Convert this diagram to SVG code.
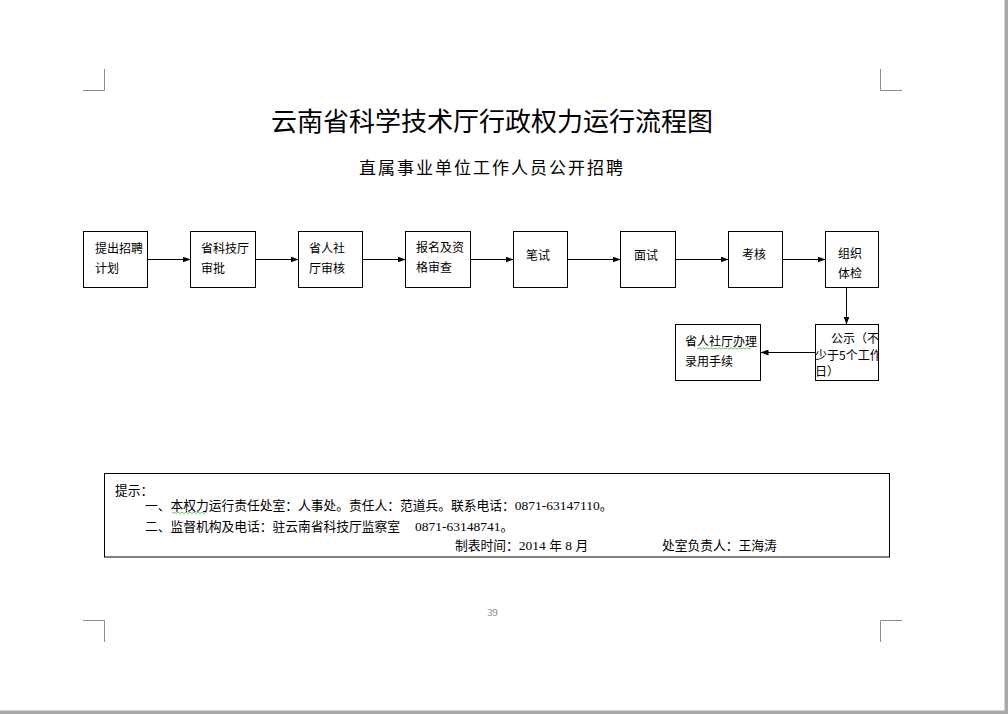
<svg xmlns="http://www.w3.org/2000/svg" width="1008" height="714" viewBox="0 0 1008 714">
<style>
text{font-family:"Noto Sans CJK SC","Liberation Sans",sans-serif;fill:#000}
.t{font-size:12px}
.n{font-size:12.75px}
.num{font-family:"Liberation Serif","Noto Sans CJK SC",serif}
.box{fill:#fff;stroke:#000;stroke-width:1}
.con{stroke:#000;stroke-width:1;fill:none}
.mark{stroke:#8c8c8c;stroke-width:1;fill:none}
.wave{stroke:#4caf50;stroke-width:0.8;fill:none}
</style>
<defs>
<marker id="ah" viewBox="0 0 8 6" refX="8" refY="3" markerWidth="8" markerHeight="6" markerUnits="userSpaceOnUse" orient="auto">
<path d="M0,0 L8,3 L0,6 Z" fill="#000"/>
</marker>
<clipPath id="clipGs"><rect x="815" y="324" width="63.5" height="56"/></clipPath>
</defs>
<rect x="0" y="0" width="1008" height="714" fill="#fff"/>
<rect x="1004.5" y="0" width="3.5" height="714" fill="#a8a8a8"/>
<rect x="0" y="710.5" width="1008" height="3.5" fill="#a8a8a8"/>
<g id="cropmarks">
<path class="mark" d="M104.5,69 V90.5 H83"/>
<path class="mark" d="M880.5,69 V90.5 H902"/>
<path class="mark" d="M104.5,642 V620.5 H83"/>
<path class="mark" d="M880.5,642 V620.5 H902"/>
</g>
<g id="title">
<text x="492" y="131" font-size="26" text-anchor="middle">云南省科学技术厅行政权力运行流程图</text>
<text x="492" y="174" font-size="17" text-anchor="middle" letter-spacing="2">直属事业单位工作人员公开招聘</text>
</g>
<g id="connectors">
<line class="con" x1="147.5" y1="259.5" x2="190.5" y2="259.5" marker-end="url(#ah)"/>
<line class="con" x1="255.5" y1="259.5" x2="298.5" y2="259.5" marker-end="url(#ah)"/>
<line class="con" x1="362.5" y1="259.5" x2="405.5" y2="259.5" marker-end="url(#ah)"/>
<line class="con" x1="470.5" y1="259.5" x2="513.5" y2="259.5" marker-end="url(#ah)"/>
<line class="con" x1="567.5" y1="259.5" x2="620.5" y2="259.5" marker-end="url(#ah)"/>
<line class="con" x1="675.5" y1="259.5" x2="728.5" y2="259.5" marker-end="url(#ah)"/>
<line class="con" x1="782.5" y1="259.5" x2="825.5" y2="259.5" marker-end="url(#ah)"/>
<line class="con" x1="846.5" y1="287.5" x2="846.5" y2="324.5" marker-end="url(#ah)"/>
<line class="con" x1="815.5" y1="352.5" x2="760.5" y2="352.5" marker-end="url(#ah)"/>
</g>
<g id="n1"><rect class="box" x="83.5" y="231.5" width="64" height="56"/><text class="t" x="95" y="253">提出招聘<tspan x="95" y="273">计划</tspan></text></g>
<g id="n2"><rect class="box" x="190.5" y="231.5" width="65" height="56"/><text class="t" x="201" y="253">省科技厅<tspan x="201" y="273">审批</tspan></text></g>
<g id="n3"><rect class="box" x="298.5" y="231.5" width="64" height="56"/><text class="t" x="309" y="253">省人社<tspan x="309" y="273">厅审核</tspan></text></g>
<g id="n4"><rect class="box" x="405.5" y="231.5" width="65" height="56"/><text class="t" x="416" y="252">报名及资<tspan x="416" y="272">格审查</tspan></text></g>
<g id="n5"><rect class="box" x="513.5" y="231.5" width="54" height="56"/><text class="t" x="526" y="259.5">笔试</text></g>
<g id="n6"><rect class="box" x="620.5" y="231.5" width="55" height="56"/><text class="t" x="634" y="259.5">面试</text></g>
<g id="n7"><rect class="box" x="728.5" y="231.5" width="54" height="56"/><text class="t" x="742" y="259">考核</text></g>
<g id="n8"><rect class="box" x="825.5" y="231.5" width="53" height="56"/><text class="t" x="838" y="258">组织<tspan x="838" y="278">体检</tspan></text></g>
<g id="n9"><rect class="box" x="815.5" y="324.5" width="63" height="56"/>
<g clip-path="url(#clipGs)"><text class="t" x="831" y="343">公示（不<tspan x="815" y="359.5">少于5个工作</tspan><tspan x="815" y="376">日）</tspan></text></g></g>
<g id="n10"><rect class="box" x="675.5" y="324.5" width="85" height="56"/><text class="t" x="685" y="346">省人社厅办理<tspan x="685" y="366">录用手续</tspan></text>
<path class="wave" d="M697,349 l2,-1.2 l2,1.2 l2,-1.2 l2,1.2 l2,-1.2 l2,1.2 l2,-1.2 l2,1.2 l2,-1.2 l2,1.2 l2,-1.2 l2,1.2 l2,-1.2 l2,1.2 l2,-1.2 l2,1.2 l2,-1.2 l2,1.2 l2,-1.2 l2,1.2 l2,-1.2 l2,1.2 l2,-1.2 l2,1.2 l2,-1.2 l2,1.2 l2,-1.2"/></g>
<g id="notes">
<rect class="box" x="104.5" y="473.5" width="785" height="83.5"/>
<text class="n" x="115" y="495">提示：</text>
<text class="n" x="145" y="510">一、本权力运行责任处室：人事处。责任人：范道兵。联系电话：<tspan class="num" font-size="13.5">0871-63147110</tspan>。</text>
<path class="wave" d="M172,513.5 l2,-1.2 l2,1.2 l2,-1.2 l2,1.2 l2,-1.2 l2,1.2 l2,-1.2 l2,1.2 l2,-1.2 l2,1.2 l2,-1.2 l2,1.2 l2,-1.2 l2,1.2 l2,-1.2 l2,1.2 l2,-1.2"/>
<text class="n" x="145" y="531">二、监督机构及电话：驻云南省科技厅监察室</text>
<text class="n" x="415" y="531"><tspan class="num" font-size="13.5">0871-63148741</tspan>。</text>
<text class="n" x="455" y="550">制表时间：<tspan class="num" font-size="13.5">2014 </tspan>年<tspan class="num" font-size="13.5"> 8 </tspan>月</text>
<text class="n" x="662" y="550">处室负责人：王海涛</text>
</g>
<text x="492.5" y="616" font-size="10.5" text-anchor="middle" fill="#808080" style="fill:#808080;font-family:'Liberation Serif',serif">39</text>
</svg>
